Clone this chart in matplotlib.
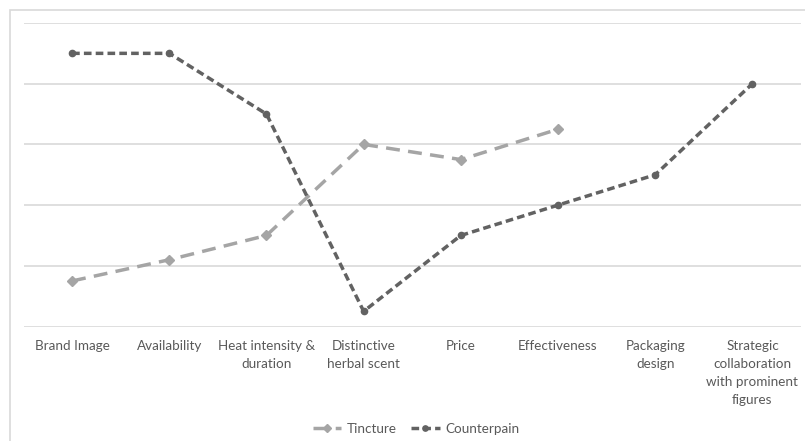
import matplotlib
matplotlib.use("Agg")
import matplotlib.pyplot as plt
from matplotlib.patches import Rectangle
import numpy as np

categories = ["Brand Image", "Availability", "Heat intensity &\nduration",
              "Distinctive\nherbal scent", "Price", "Effectiveness",
              "Packaging\ndesign", "Strategic\ncollaboration\nwith prominent\nfigures"]
tincture = [0.75, 1.1, 1.5, 3.0, 2.75, 3.25]
counterpain = [4.5, 4.5, 3.5, 0.25, 1.5, 2.0, 2.5, 4.0]
y_ticks = [0, 1, 2, 3, 4, 5]

plt.rcParams['font.family'] = ['Lato', 'DejaVu Sans']

W, H = 805, 441
fig = plt.figure(figsize=(W / 100, H / 100), dpi=100)
fig.patch.set_facecolor("white")

# outer chart border
fig.patches.append(Rectangle((10 / W, -0.05), 1.0, 1 - 10 / H + 0.05,
                             transform=fig.transFigure, fill=False,
                             edgecolor="#d9d9d9", linewidth=1.2))

left, right = 23.5 / W, 801 / W
top, bottom = 1 - 23 / H, 1 - 326.5 / H
ax = fig.add_axes([left, bottom, right - left, top - bottom])

x = np.arange(len(categories))
ax.set_xlim(-0.5, len(categories) - 0.5)
ax.set_ylim(0, 5)
ax.set_yticks(y_ticks)
ax.yaxis.grid(True, color="#d9d9d9", linewidth=1.2)
ax.set_axisbelow(True)
ax.tick_params(axis="y", left=False, labelleft=False)
ax.tick_params(axis="x", length=0, pad=9.5, labelsize=9.7, colors="#595959")
for s in ax.spines.values():
    s.set_visible(False)
ax.set_xticks(x)
ax.set_xticklabels(categories, va="top", ha="center", linespacing=1.62)

ax.plot(x[:len(tincture)], tincture, color="#a5a5a5", linewidth=2.5,
        linestyle=(0, (4, 2.4)), marker="D", markersize=5,
        label="Tincture", clip_on=False)
ax.plot(x, counterpain, color="#626262", linewidth=2.5,
        linestyle=(0, (2.2, 1.2)), marker="o", markersize=4.5,
        label="Counterpain", clip_on=False)

leg = fig.legend(loc="center", bbox_to_anchor=(416 / W, 1 - 429 / H),
                 ncol=2, frameon=False, fontsize=9.7, handlelength=2.1,
                 columnspacing=1.1, handletextpad=0.4, markerscale=0.85)
for t in leg.get_texts():
    t.set_color("#595959")

fig.savefig("out.png", dpi=100, facecolor="white")
